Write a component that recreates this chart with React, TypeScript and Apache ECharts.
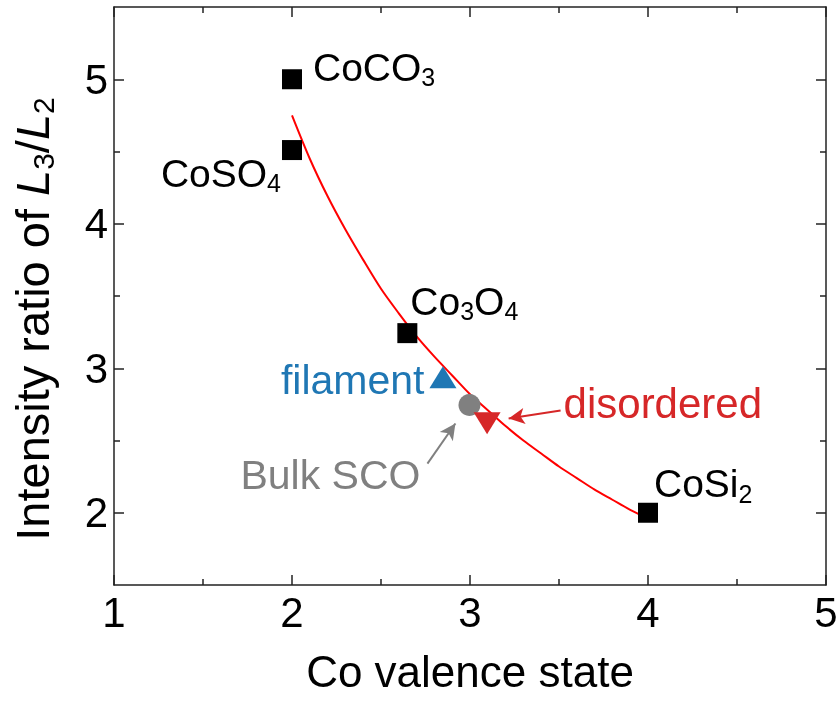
import React, { useEffect, useRef } from "react";
import * as echarts from "echarts";

// Reference compounds (black squares)
const refNames = ["CoCO3", "CoSO4", "Co3O4", "CoSi2"];
const refX = [2.0, 2.0, 2.648, 4.0];
const refY = [5.0, 4.51, 3.243, 2.0];

// Samples
const filamentPt = [2.848, 2.937];
const bulkPt = [2.997, 2.745];
const disorderedPt = [3.096, 2.62];

// Red fit curve
const fitX = [2.0, 2.1, 2.2, 2.3, 2.4, 2.5, 2.6, 2.7, 2.8, 2.9, 3.0, 3.1, 3.2, 3.3, 3.4, 3.5, 3.6, 3.7, 3.8, 3.9, 4.0];
const fitY = [4.75, 4.45, 4.19, 3.96, 3.75, 3.55, 3.38, 3.22, 3.08, 2.95, 2.82, 2.71, 2.6, 2.5, 2.41, 2.32, 2.24, 2.16, 2.09, 2.02, 1.96];

// Arrows [tail, head]
const bulkArrow = [[2.761, 2.34], [2.918, 2.618]];
const disArrow = [[3.509, 2.708], [3.217, 2.653]];

const yMajor = [2, 3, 4, 5];
const yMinor = [2.5, 3.5, 4.5];

const BLUE = "#1f77b4";
const RED = "#d62728";
const GRAY = "#808080";
const FONT = "Liberation Sans";

const subRich = (size: number, color: string) => ({
  m: { fontSize: size, lineHeight: size + 6, color, fontFamily: FONT },
  s: { fontSize: Math.round(size * 0.65), lineHeight: Math.round(size * 0.45), verticalAlign: "bottom", color, fontFamily: FONT },
});

const fmtChem = (name: string) =>
  name.replace(/([A-Za-z]+)|(\d+)/g, (m, a, d) => (a ? `{m|${a}}` : `{s|${d}}`));

export default function App() {
  const ref = useRef<HTMLDivElement>(null);
  useEffect(() => {
    if (!ref.current) return;
    const chart = echarts.init(ref.current, null, { renderer: "svg" });
    const lineStyle = { color: "#222", width: 1.5 };
    const axisCommon = {
      type: "value" as const,
      splitLine: { show: false },
      axisLine: { show: true, onZero: false, lineStyle },
    };
    const labelOffsets: Record<string, { pos: string; off: number[] }> = {
      CoCO3: { pos: "right", off: [6, -12] },
      CoSO4: { pos: "left", off: [4, 23] },
      Co3O4: { pos: "right", off: [-12, -32] },
      CoSi2: { pos: "right", off: [-9, -29] },
    };
    chart.setOption({
      animation: false,
      grid: { left: 114, right: 13, top: 7, bottom: 121, containLabel: false, outerBoundsMode: "none" },
      xAxis: [
        {
          ...axisCommon,
          min: 1,
          max: 5,
          interval: 1,
          position: "bottom",
          axisTick: { show: true, inside: true, length: 10, lineStyle },
          minorTick: { show: true, splitNumber: 2, length: 6, lineStyle },
          axisLabel: { fontSize: 42, color: "#000", margin: 6, fontFamily: FONT },
          name: "Co valence state",
          nameLocation: "middle",
          nameGap: 64,
          nameTextStyle: { fontSize: 44, color: "#000", fontFamily: FONT },
        },
        {
          ...axisCommon,
          min: 1,
          max: 5,
          interval: 1,
          position: "top",
          axisTick: { show: true, inside: true, length: 10, lineStyle },
          minorTick: { show: true, splitNumber: 2, length: 6, lineStyle },
          axisLabel: { show: false },
        },
      ],
      yAxis: [
        {
          ...axisCommon,
          min: 1.5,
          max: 5.5,
          interval: 0.5,
          position: "left",
          axisTick: { show: true, inside: true, length: 10, lineStyle, customValues: yMajor },
          axisLabel: {
            fontSize: 42,
            color: "#000",
            margin: 6,
            fontFamily: FONT,
            customValues: yMajor,
          },
          name: "{m|Intensity ratio of }{i|L}{s|3}{m|/}{i|L}{s|2}",
          nameLocation: "middle",
          nameGap: 56,
          nameRotate: 90,
          nameTextStyle: {
            padding: [0, 46, 0, 0],
            rich: {
              m: { fontSize: 47, lineHeight: 52, color: "#000", fontFamily: FONT },
              i: { fontSize: 47, lineHeight: 52, color: "#000", fontFamily: FONT, fontStyle: "italic" },
              s: { fontSize: 30, lineHeight: 19, verticalAlign: "bottom", color: "#000", fontFamily: FONT },
            },
          },
        },
        {
          ...axisCommon,
          min: 1.5,
          max: 5.5,
          interval: 0.5,
          position: "left",
          axisLine: { show: false },
          axisTick: { show: true, inside: true, length: 6, lineStyle, customValues: yMinor },
          axisLabel: { show: false },
        },
        {
          ...axisCommon,
          min: 1.5,
          max: 5.5,
          interval: 0.5,
          position: "right",
          axisTick: { show: true, inside: true, length: 10, lineStyle, customValues: yMajor },
          axisLabel: { show: false },
        },
        {
          ...axisCommon,
          min: 1.5,
          max: 5.5,
          interval: 0.5,
          position: "right",
          axisLine: { show: false },
          axisTick: { show: true, inside: true, length: 6, lineStyle, customValues: yMinor },
          axisLabel: { show: false },
        },
      ],
      series: [
        {
          type: "line",
          name: "fit",
          data: fitX.map((x, i) => [x, fitY[i]]),
          smooth: 0.3,
          showSymbol: false,
          lineStyle: { color: "#ff0000", width: 2 },
          z: 2,
        },
        {
          type: "scatter",
          name: "references",
          symbol: "rect",
          symbolSize: 20,
          itemStyle: { color: "#000", opacity: 1 },
          z: 3,
          data: refNames.map((n, i) => ({
            value: [refX[i], refY[i]],
            name: n,
            label: {
              show: true,
              position: labelOffsets[n].pos,
              offset: labelOffsets[n].off,
              formatter: fmtChem(n),
              rich: subRich(39, "#000"),
            },
          })),
        },
        {
          type: "scatter",
          name: "filament",
          symbol: "triangle",
          symbolSize: [27, 22],
          itemStyle: { color: BLUE, opacity: 1 },
          z: 4,
          data: [{ value: filamentPt }],
          label: {
            show: true,
            position: "left",
            offset: [0, 3],
            formatter: "filament",
            fontSize: 41,
            color: BLUE,
            fontFamily: FONT,
          },
        },
        {
          type: "scatter",
          name: "Bulk SCO",
          symbol: "circle",
          symbolSize: 22,
          itemStyle: { color: GRAY, opacity: 1 },
          z: 4,
          data: [{ value: bulkPt }],
          label: {
            show: true,
            position: "left",
            offset: [-33, 70],
            formatter: "Bulk SCO",
            fontSize: 41,
            color: GRAY,
            fontFamily: FONT,
          },
          markLine: {
            silent: true,
            symbol: ["none", "arrow"],
            symbolSize: [12, 16],
            label: { show: false },
            lineStyle: { color: GRAY, width: 2, type: "solid", opacity: 1 },
            data: [[{ coord: bulkArrow[0] }, { coord: bulkArrow[1] }]],
          },
        },
        {
          type: "scatter",
          name: "disordered",
          symbol: "triangle",
          symbolRotate: 180,
          symbolSize: [27, 22],
          itemStyle: { color: RED, opacity: 1 },
          z: 4,
          data: [{ value: disorderedPt }],
          label: {
            show: true,
            position: "right",
            offset: [58, -20],
            formatter: "disordered",
            fontSize: 42,
            color: RED,
            fontFamily: FONT,
          },
          markLine: {
            silent: true,
            symbol: ["none", "arrow"],
            symbolSize: [12, 16],
            label: { show: false },
            lineStyle: { color: RED, width: 2, type: "solid", opacity: 1 },
            data: [[{ coord: disArrow[0] }, { coord: disArrow[1] }]],
          },
        },
      ],
    });
    return () => chart.dispose();
  }, []);
  return <div ref={ref} style={{ position: "fixed", left: 0, top: 0, width: 839, height: 706 }} />;
}
